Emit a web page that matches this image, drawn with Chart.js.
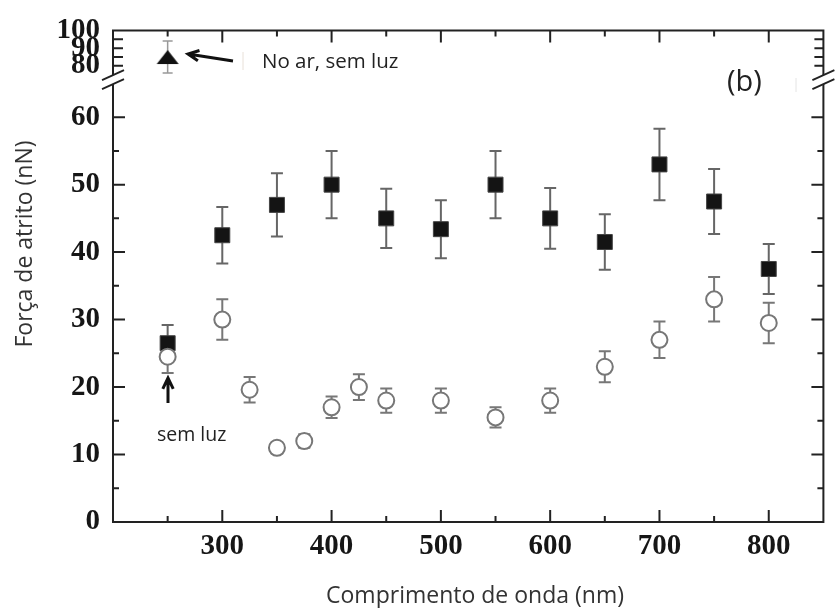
<!DOCTYPE html>
<html>
<head>
<meta charset="utf-8">
<script src="https://cdn.jsdelivr.net/npm/chart.js@4.4.1/dist/chart.umd.min.js"></script>
<style>
html,body{margin:0;padding:0;background:#fff;}
</style>
</head>
<body>
<canvas id="frictionChart" width="835" height="608"></canvas>
<script>
// filled squares
const waveSquares = [250,300,350,400,450,500,550,600,650,700,750,800];
const forceSquares = [26.5,42.5,47,50,45,43.4,50,45,41.5,53,47.5,37.5];
const errSquares = [2.7,4.2,4.7,5,4.4,4.3,5,4.5,4.1,5.3,4.8,3.7];

// open circles
const waveCircles = [250,300,325,350,375,400,425,450,500,550,600,650,700,750,800];
const forceCircles = [24.5,30,19.6,11,12,17,20,18,18,15.5,18,23,27,33,29.5];
const errCircles = [2.4,3,1.9,0.8,1,1.6,1.9,1.8,1.8,1.5,1.8,2.3,2.7,3.3,3];

// triangle (no ar, sem luz)
const waveAir = [250];
const forceAir = [85];
const errAir = [9];

const xTickLabels = [300,400,500,600,700,800];
const yTickLabels = [0,10,20,30,40,50,60];
const yTopTickLabels = [80,90,100];

function pts(xs, ys){
  return xs.map((x,i) => ({x:x, y:ys[i]}));
}

// wide triangle marker
const tri = document.createElement('canvas');
tri.width = 24; tri.height = 16;
const tc = tri.getContext('2d');
tc.fillStyle = '#111';
tc.beginPath();
tc.moveTo(12,1); tc.lineTo(23,15); tc.lineTo(1,15);
tc.closePath();
tc.fill();

const tickFont = {family:'Liberation Serif', size:29, weight:'bold'};

const errorBars = {
  id:'errorBars',
  beforeDatasetsDraw(chart){
    const c = chart.ctx;
    chart.data.datasets.forEach(ds => {
      if(!ds.errors) return;
      const xs = chart.scales.x;
      const ys = chart.scales[ds.yAxisID];
      c.save();
      c.strokeStyle = ds.errColor;
      c.lineWidth = ds.errWidth;
      ds.data.forEach((p,j) => {
        const x = xs.getPixelForValue(p.x);
        const y1 = ys.getPixelForValue(p.y + ds.errors[j]);
        const y0 = ys.getPixelForValue(p.y - ds.errors[j]);
        const cap = ds.errCap;
        c.beginPath();
        c.moveTo(x,y0); c.lineTo(x,y1);
        c.moveTo(x-cap,y0); c.lineTo(x+cap,y0);
        c.moveTo(x-cap,y1); c.lineTo(x+cap,y1);
        c.stroke();
      });
      c.restore();
    });
  }
};

function arrow(c, x0, y0, x1, y1){
  const a = Math.atan2(y1-y0, x1-x0);
  c.beginPath();
  c.moveTo(x0,y0); c.lineTo(x1,y1);
  c.moveTo(x1 - 12*Math.cos(a-0.45), y1 - 12*Math.sin(a-0.45));
  c.lineTo(x1,y1);
  c.lineTo(x1 - 12*Math.cos(a+0.45), y1 - 12*Math.sin(a+0.45));
  c.stroke();
}

const frame = {
  id:'frame',
  afterDraw(chart){
    const c = chart.ctx;
    const xs = chart.scales.x, yl = chart.scales.y, yu = chart.scales.y2;
    const L = chart.chartArea.left, R = chart.chartArea.right;
    const T = chart.chartArea.top, B = chart.chartArea.bottom;
    const split = yl.top;
    c.save();
    c.strokeStyle = '#222';
    c.lineWidth = 2;
    c.lineCap = 'butt';
    // frame with breaks
    c.beginPath();
    c.moveTo(L, split-5); c.lineTo(L, T); c.lineTo(R, T); c.lineTo(R, split-5);
    c.moveTo(L, split+4); c.lineTo(L, B); c.lineTo(R, B); c.lineTo(R, split+4);
    c.stroke();
    // break slashes
    c.lineWidth = 1.8;
    [L, R].forEach(x => {
      [split-5, split+4].forEach(y => {
        c.beginPath();
        c.moveTo(x-11, y+5); c.lineTo(x+11, y-5);
        c.stroke();
      });
    });
    // x ticks (bottom + top)
    c.lineWidth = 2;
    for(let v = 250; v <= 800; v += 50){
      const x = xs.getPixelForValue(v);
      const len = v % 100 === 0 ? 12 : 6;
      c.beginPath();
      c.moveTo(x,B); c.lineTo(x,B-len);
      c.moveTo(x,T); c.lineTo(x,T+len);
      c.stroke();
    }
    // lower y ticks
    for(let v = 5; v <= 60; v += 5){
      const y = yl.getPixelForValue(v);
      const len = v % 10 === 0 ? 12 : 6;
      c.beginPath();
      c.moveTo(L,y); c.lineTo(L+len,y);
      c.moveTo(R,y); c.lineTo(R-len,y);
      c.stroke();
    }
    // upper y ticks
    for(let v = 80; v <= 95; v += 5){
      const y = yu.getPixelForValue(v);
      c.beginPath();
      c.moveTo(L,y); c.lineTo(L+10,y);
      c.moveTo(R,y); c.lineTo(R-9,y);
      c.stroke();
    }
    // annotations
    c.strokeStyle = '#111';
    c.lineWidth = 3;
    arrow(c, 233, 61, 188, 54);
    arrow(c, 168, 403, 168, 378);
    c.strokeStyle = '#e8e0d8';
    c.lineWidth = 1;
    c.beginPath(); c.moveTo(243,52); c.lineTo(243,70); c.stroke();
    c.strokeStyle = '#e4e4e4';
    c.beginPath(); c.moveTo(796,78); c.lineTo(796,92); c.stroke();

    c.fillStyle = '#222';
    c.textBaseline = 'middle';
    c.textAlign = 'left';
    c.font = '20.5px "Open Sans"';
    c.fillText('No ar, sem luz', 262, 62);
    c.font = '19.5px "Open Sans"';
    c.fillText('sem luz', 157, 435);
    c.font = '29px "Open Sans"';
    c.fillText('(b)', 727, 83);

    // axis titles
    c.fillStyle = '#333';
    c.textAlign = 'center';
    c.font = '23px "Open Sans"';
    c.fillText('Comprimento de onda (nm)', 475, 596);
    c.translate(25, 244);
    c.rotate(-Math.PI/2);
    c.fillText('Força de atrito (nN)', 0, 0);
    c.restore();
  }
};

new Chart(document.getElementById('frictionChart'), {
  type:'scatter',
  data:{
    datasets:[
      {
        label:'circulos',
        data:pts(waveCircles, forceCircles),
        yAxisID:'y',
        pointStyle:'circle',
        pointRadius:8,
        pointBorderWidth:2,
        pointBackgroundColor:'#fff',
        pointBorderColor:'#777',
        errors:errCircles, errColor:'#777', errWidth:2, errCap:6
      },
      {
        label:'quadrados',
        data:pts(waveSquares, forceSquares),
        yAxisID:'y',
        pointStyle:'rect',
        pointRadius:10.6,
        pointBorderWidth:1,
        pointBackgroundColor:'#141414',
        pointBorderColor:'#444',
        errors:errSquares, errColor:'#666', errWidth:2, errCap:6
      },
      {
        label:'ar',
        data:pts(waveAir, forceAir),
        yAxisID:'y2',
        pointStyle:tri,
        pointRadius:10,
        errors:errAir, errColor:'#999', errWidth:1.5, errCap:5
      }
    ]
  },
  options:{
    responsive:false,
    animation:false,
    layout:{padding:{top:27, right:1, left:0, bottom:0}},
    plugins:{legend:{display:false}, tooltip:{enabled:false}},
    scales:{
      x:{
        type:'linear', min:200, max:850,
        afterBuildTicks: s => { s.ticks = xTickLabels.map(v => ({value:v})); },
        afterFit: s => { s.height = 86; },
        grid:{display:false, drawTicks:false},
        border:{display:false},
        ticks:{padding:7, font:tickFont, color:'#161616', autoSkip:false, maxRotation:0}
      },
      y:{
        type:'linear', position:'left', stack:'left', stackWeight:445,
        min:0, max:65.5,
        afterBuildTicks: s => { s.ticks = yTickLabels.map(v => ({value:v})); },
        afterFit: s => { s.width = 113; },
        grid:{display:false, drawTicks:false},
        border:{display:false},
        ticks:{padding:13, font:tickFont, color:'#161616', autoSkip:false}
      },
      y2:{
        type:'linear', position:'left', stack:'left', stackWeight:50,
        min:72, max:100,
        afterBuildTicks: s => { s.ticks = yTopTickLabels.map(v => ({value:v})); },
        afterFit: s => { s.width = 113; },
        grid:{display:false, drawTicks:false},
        border:{display:false},
        ticks:{padding:13, font:tickFont, color:'#161616', autoSkip:false}
      }
    }
  },
  plugins:[errorBars, frame]
});
</script>
</body>
</html>
